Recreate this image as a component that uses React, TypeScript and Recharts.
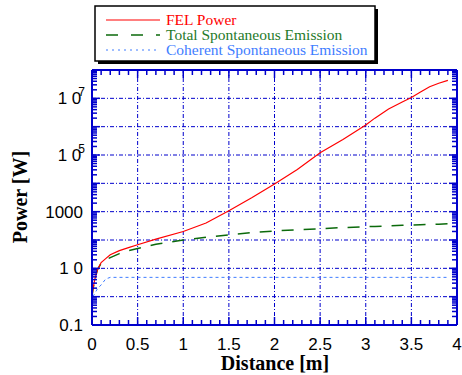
import { Line, LineChart, ReferenceLine, XAxis, YAxis } from "recharts";

// distance along the undulator [m]
const distance = [0, 0.01, 0.03, 0.06, 0.1, 0.15, 0.2, 0.3, 0.4, 0.5, 0.7, 1.0, 1.25, 1.5, 1.75, 2.0, 2.25, 2.5, 2.75, 3.0, 3.1, 3.25, 3.4, 3.5, 3.6, 3.7, 3.8, 3.9];
// power [W]
const felPower = [1.0, 1.8, 4, 9, 16, 22, 30, 42, 54, 68, 107, 200, 400, 1070, 3100, 9500, 31000, 120000, 355000, 1150000, 2000000, 4200000, 7400000, 10700000, 16600000, 25700000, 34000000, 43000000];
const totalSpont = [1.0, 1.8, 4, 9, 15, 20, 24, 33, 42, 50, 71, 100, 126, 152, 182, 209, 229, 251, 275, 295, 302, 316, 330, 339, 348, 355, 363, 375];
const coherentSpont = [null, 1.0, 1.3, 1.9, 2.6, 4.2, 4.8, 4.8, 4.8, 4.8, 4.8, 4.8, 4.8, 4.8, 4.8, 4.8, 4.8, 4.8, 4.8, 4.8, 4.8, 4.8, 4.8, 4.8, 4.8, 4.8, 4.8, 4.8];

const xMajor = [0, 0.5, 1, 1.5, 2, 2.5, 3, 3.5, 4];
const xMajorLabels = ["0", "0.5", "1", "1.5", "2", "2.5", "3", "3.5", "4"];
const decades = [0.1, 1, 10, 100, 1000, 1e4, 1e5, 1e6, 1e7, 1e8];
// labelled decades: [value, base, exponent]
const yLabels: [number, string, string][] = [
  [0.1, "0.1", ""],
  [10, "1 0", ""],
  [1000, "1000", ""],
  [1e5, "1 0", "5"],
  [1e7, "1 0", "7"],
];

const rows = distance.map((x, i) => ({
  x,
  fel: felPower[i],
  total: totalSpont[i],
  coherent: coherentSpont[i],
}));

const AXIS = "#0000cc";
const RED = "#ff0000";
const GREEN = "#0b6a0b";
const LBLUE = "#3f7dff";

// 0.1 m minor steps on x, 2..9 per decade on y
const xTicks = Array.from({ length: 41 }, (_, k) => k / 10);
const yTicks: number[] = [];
decades.forEach((d, i) => {
  yTicks.push(d);
  if (i < decades.length - 1) for (let m = 2; m < 10; m++) yTicks.push(d * m);
});

const isMajorX = (v: number) => Math.abs(v * 2 - Math.round(v * 2)) < 1e-6;
const isDecade = (v: number) => decades.some((d) => Math.abs(v / d - 1) < 1e-6);

const sans = "'Liberation Sans', Arial, sans-serif";
const serif = "'Liberation Serif', 'Times New Roman', serif";

function BottomTick(props: any) {
  const { x, y, payload } = props;
  const v = payload.value;
  const major = isMajorX(v);
  const idx = xMajor.findIndex((m) => Math.abs(m - v) < 1e-6);
  return (
    <g>
      <line x1={x} x2={x} y1={y} y2={y - (major ? 8 : 5)} stroke={AXIS} strokeWidth={1.5} />
      {idx >= 0 && (
        <text x={x} y={y + 25} textAnchor="middle" fontSize={17} fontFamily={sans} fill="#000">
          {xMajorLabels[idx]}
        </text>
      )}
    </g>
  );
}

function TopTick(props: any) {
  const { x, y, payload } = props;
  const major = isMajorX(payload.value);
  return <line x1={x} x2={x} y1={y} y2={y + (major ? 8 : 5)} stroke={AXIS} strokeWidth={1.5} />;
}

function LeftTick(props: any) {
  const { x, y, payload } = props;
  const v = payload.value;
  const major = isDecade(v);
  const lab = yLabels.find((l) => Math.abs(l[0] / v - 1) < 1e-6);
  return (
    <g>
      <line x1={x} x2={x + (major ? 8 : 5)} y1={y} y2={y} stroke={AXIS} strokeWidth={1.5} />
      {lab && (
        <text x={lab[2] ? 85 : 83} y={y + 6} textAnchor="end" fontSize={17} fontFamily={sans} fill="#000">
          {lab[1]}
          {lab[2] && (
            <tspan dx={-3} dy={-8} fontSize={12}>
              {lab[2]}
            </tspan>
          )}
        </text>
      )}
    </g>
  );
}

function RightTick(props: any) {
  const { x, y, payload } = props;
  const major = isDecade(payload.value);
  return <line x1={x} x2={x - (major ? 8 : 5)} y1={y} y2={y} stroke={AXIS} strokeWidth={1.5} />;
}

function LegendBox() {
  return (
    <svg width={462} height={70} style={{ position: "absolute", left: 0, top: 0, pointerEvents: "none" }}>
      <rect x={98} y={9} width={280} height={55} fill="#000" />
      <rect x={95} y={6} width={280} height={55} fill="#fff" stroke="#000" strokeWidth={1.5} />
      <line x1={106} x2={160} y1={20} y2={20} stroke={RED} strokeWidth={1.2} />
      <text x={166} y={25} fontSize={15.5} fontFamily={serif} fill={RED}>FEL Power</text>
      <line x1={106} x2={160} y1={35} y2={35} stroke={GREEN} strokeWidth={1.5} strokeDasharray="12 13" />
      <text x={166} y={39.5} fontSize={15.5} fontFamily={serif} fill="#1f7a2a">Total Spontaneous Emission</text>
      <line x1={106} x2={160} y1={50} y2={50} stroke={LBLUE} strokeWidth={1} strokeDasharray="2 4" />
      <text x={166} y={54.5} fontSize={15.5} fontFamily={serif} fill={LBLUE}>Coherent Spontaneous Emission</text>
    </svg>
  );
}

export default function App() {
  return (
    <div style={{ position: "absolute", left: 0, top: 0, width: 462, height: 375, background: "#fff" }}>
      <LineChart width={462} height={375} data={rows} margin={{ top: 69, right: 4, bottom: 49, left: 91 }}>
        <XAxis
          xAxisId="b"
          dataKey="x"
          type="number"
          domain={[0, 4]}
          allowDataOverflow
          ticks={xTicks}
          interval={0}
          height={1}
          tickSize={0}
          tickMargin={0}
          tickLine={false}
          tick={(p: any) => <BottomTick {...p} />}
          axisLine={{ stroke: AXIS, strokeWidth: 2 }}
        />
        <XAxis
          xAxisId="t"
          orientation="top"
          dataKey="x"
          type="number"
          domain={[0, 4]}
          allowDataOverflow
          ticks={xTicks}
          interval={0}
          height={1}
          tickSize={0}
          tickMargin={0}
          tickLine={false}
          tick={(p: any) => <TopTick {...p} />}
          axisLine={{ stroke: AXIS, strokeWidth: 2 }}
        />
        <YAxis
          yAxisId="l"
          scale="log"
          type="number"
          domain={[0.1, 1e8]}
          allowDataOverflow
          ticks={yTicks}
          interval={0}
          width={1}
          tickSize={0}
          tickMargin={0}
          tickLine={false}
          tick={(p: any) => <LeftTick {...p} />}
          axisLine={{ stroke: AXIS, strokeWidth: 2 }}
        />
        <YAxis
          yAxisId="r"
          orientation="right"
          scale="log"
          type="number"
          domain={[0.1, 1e8]}
          allowDataOverflow
          ticks={yTicks}
          interval={0}
          width={1}
          tickSize={0}
          tickMargin={0}
          tickLine={false}
          tick={(p: any) => <RightTick {...p} />}
          axisLine={{ stroke: AXIS, strokeWidth: 2 }}
        />
        {xMajor.slice(1, -1).map((v) => (
          <ReferenceLine key={"x" + v} x={v} xAxisId="b" yAxisId="l" stroke={AXIS} strokeWidth={1} strokeDasharray="4 2 1 2" />
        ))}
        {decades.slice(1, -1).map((v) => (
          <ReferenceLine key={"y" + v} y={v} xAxisId="b" yAxisId="l" stroke={AXIS} strokeWidth={1} strokeDasharray="4 2 1 2" />
        ))}
        <Line xAxisId="b" yAxisId="l" type="linear" dataKey="coherent" stroke={LBLUE} strokeWidth={1} strokeDasharray="3 3" dot={false} connectNulls isAnimationActive={false} />
        <Line xAxisId="b" yAxisId="l" type="linear" dataKey="total" stroke={GREEN} strokeWidth={1.5} strokeDasharray="12 10" dot={false} isAnimationActive={false} />
        <Line xAxisId="b" yAxisId="l" type="linear" dataKey="fel" stroke={RED} strokeWidth={1.2} dot={false} isAnimationActive={false} />
        <text x={275} y={370} textAnchor="middle" fontSize={20} fontWeight="bold" fontFamily={serif} fill="#000">
          Distance [m]
        </text>
        <text
          x={27}
          y={197}
          transform="rotate(-90 27 197)"
          textAnchor="middle"
          fontSize={20}
          fontWeight="bold"
          fontFamily={serif}
          fill="#000"
        >
          Power [W]
        </text>
      </LineChart>
      <LegendBox />
    </div>
  );
}
